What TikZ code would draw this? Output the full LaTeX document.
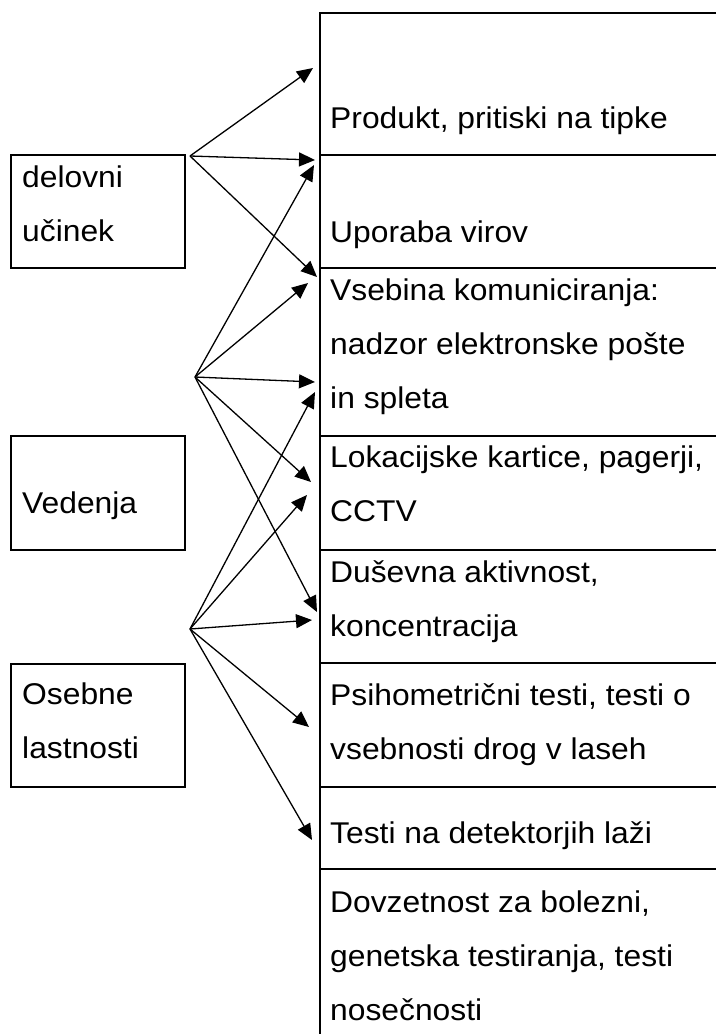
\documentclass[tikz,border=0pt]{standalone}
\usepackage{fontspec}
\setmainfont{Liberation Sans}[FakeStretch=1.06]
\usetikzlibrary{arrows.meta}
\begin{document}
\begin{tikzpicture}[x=1pt,y=-1pt,
  frame/.style={line width=2.6pt},
  catbox/.style={draw, line width=2.6pt, minimum width=174pt, inner sep=0pt},
  txt/.style={anchor=base west, inner sep=0pt, align=left, font=\fontsize{30}{54}\selectfont},
  link/.style={-{Triangle[length=16pt,width=14pt]}, line width=1.3pt}]
\useasboundingbox[fill=white] (0,0) rectangle (716,1034);

% right column
\coordinate (colTop) at (320,13);
\coordinate (colBot) at (320,1034);
\draw[frame] (716,13) -- (colTop) -- (colBot);
\foreach \yy/\nm in {155/l1,268/l2,436/l3,550/l4,663/l5,787/l6,869/l7}{
  \coordinate (\nm a) at (320,\yy);
  \coordinate (\nm b) at (716,\yy);
  \draw[frame] (\nm a) -- (\nm b);
}

% left boxes
\node[catbox, minimum height=113pt] (bDel) at (98,211.5) {};
\node[catbox, minimum height=114pt] (bVed) at (98,493) {};
\node[catbox, minimum height=123pt] (bOse) at (98,725.5) {};

% texts (base anchor = baseline of the last line)
\node[txt] (tDel) at (22,241) {delovni\\učinek};
\node[txt] (tVed) at (22,513) {Vedenja};
\node[txt] (tOse) at (22,758) {Osebne\\lastnosti};

\node[txt] (tProd) at (330,128) {Produkt, pritiski na tipke};
\node[txt] (tUpor) at (330,242) {Uporaba virov};
\node[txt] (tVseb) at (330,408) {Vsebina komuniciranja:\\nadzor elektronske pošte\\in spleta};
\node[txt] (tLok) at (330,521) {Lokacijske kartice, pagerji,\\CCTV};
\node[txt] (tDus) at (330,636) {Duševna aktivnost,\\koncentracija};
\node[txt] (tPsi) at (330,759) {Psihometrični testi, testi o\\vsebnosti drog v laseh};
\node[txt] (tLaz) at (330,843) {Testi na detektorjih laži};
\node[txt] (tDov) at (330,1020) {Dovzetnost za bolezni,\\genetska testiranja, testi\\nosečnosti};

% hubs and arrow ends
\coordinate (h1) at (190,156);
\coordinate (h2) at (195,377);
\coordinate (h3) at (190,629);
\coordinate (e1) at (313,68);
\coordinate (e2) at (315,160);
\coordinate (e3) at (317,277);
\coordinate (e4) at (314,165);
\coordinate (e5) at (308,283);
\coordinate (e6) at (315,382);
\coordinate (e7) at (311,482);
\coordinate (e8) at (317,612);
\coordinate (e9) at (315,392);
\coordinate (e10) at (307,495);
\coordinate (e11) at (312,620);
\coordinate (e12) at (309,727);
\coordinate (e13) at (312,840);

\foreach \e in {e1,e2,e3}{\draw[link] (h1) -- (\e);}
\foreach \e in {e4,e5,e6,e7,e8}{\draw[link] (h2) -- (\e);}
\foreach \e in {e9,e10,e11,e12,e13}{\draw[link] (h3) -- (\e);}
\end{tikzpicture}
\end{document}
